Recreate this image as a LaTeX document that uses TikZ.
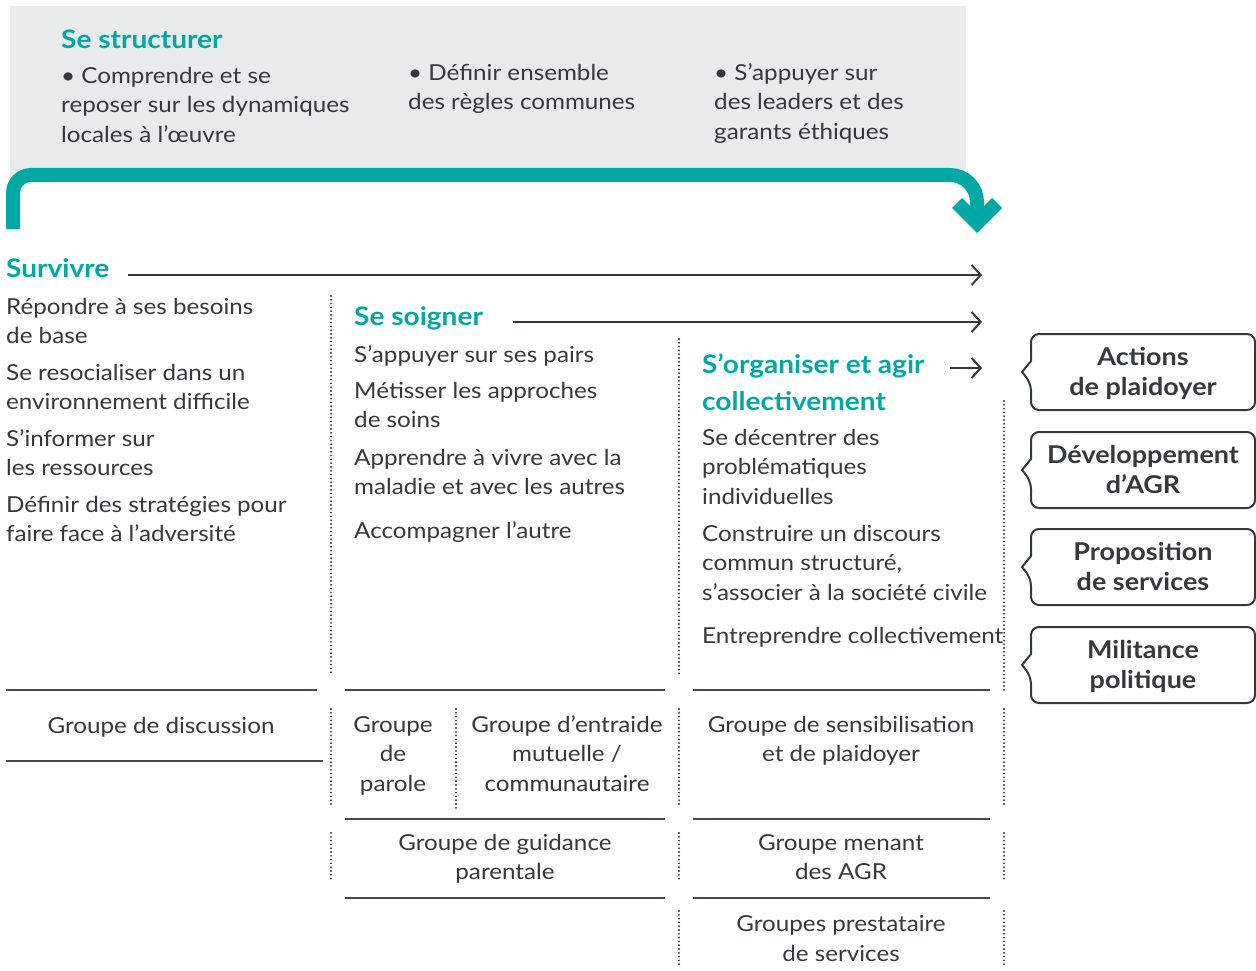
\documentclass[tikz,border=0pt]{standalone}
\usepackage{fontspec}
\setmainfont[FakeStretch=1.10]{Lato}
\usetikzlibrary{arrows.meta}
\definecolor{tealc}{RGB}{0,168,164}
\definecolor{txtc}{RGB}{51,57,62}
\definecolor{bgc}{RGB}{233,234,236}
\definecolor{linec}{RGB}{70,75,80}
\tikzset{
  body/.style={font=\fontsize{22}{29.5}\selectfont, text=txtc, inner sep=0pt, anchor=north west, align=left},
  bodyc/.style={body, anchor=north, align=center},
  ttl/.style={font=\fontsize{25.5}{37}\selectfont\bfseries, text=tealc, inner sep=0pt, anchor=north west, align=left},
  boxttl/.style={font=\fontsize{24.5}{30}\selectfont\bfseries, text=txtc, inner sep=0pt, anchor=north, align=center},
  sep/.style={draw=linec, line width=1.8pt},
  dots/.style={draw=txtc, line width=2.1pt, line cap=round, dash pattern=on 0pt off 3.8pt},
  flow/.style={draw=txtc, line width=2pt, -{Straight Barb[length=9pt,width=20pt,line width=2pt]}},
  bubble/.style={draw=txtc, line width=2pt, rounded corners=8pt},
  bigarrow/.style={draw=tealc, line width=14pt}
}
\begin{document}
\begin{tikzpicture}[x=1pt,y=-1pt]
\useasboundingbox (0,0) rectangle (1256,971);
% grey band
\fill[bgc] (10,6) rectangle (966,176);
% big teal arrow
\draw[bigarrow] (13,229) -- (13,193) arc[start angle=180,end angle=270,radius=18] -- (950,175) arc[start angle=270,end angle=360,radius=27] -- (977,216);
\fill[tealc] (977,233) -- (952,208) -- (962,198) -- (977,213) -- (992,198) -- (1002,208) -- cycle;

% Se structurer
\node[ttl] (st) at (61,22.1) {\strut Se structurer};
\node[body] (s1) at (61,62.35) {\strut • Comprendre et se\\reposer sur les dynamiques\\locales à l’œuvre};
\node[body] (s2) at (408,59.35) {\strut • Définir ensemble\\des règles communes};
\node[body] (s3) at (714,59.35) {\strut • S’appuyer sur\\des leaders et des\\garants éthiques};

% column 1
\node[ttl] (surv) at (6,251) {\strut Survivre};
\coordinate (sa) at (128,275);
\coordinate (sb) at (982,275);
\draw[flow] (sa) -- (sb);
\node[body] (a1) at (6,293.35) {\strut Répondre à ses besoins\\de base};
\node[body] (a2) at (6,359.35) {\strut Se resocialiser dans un\\environnement difficile};
\node[body] (a3) at (6,425.35) {\strut S’informer sur\\les ressources};
\node[body] (a4) at (6,491.35) {\strut Définir des stratégies pour\\faire face à l’adversité};

% column 2
\node[ttl] (soig) at (354,299) {\strut Se soigner};
\coordinate (ga) at (513,322);
\coordinate (gb) at (982,322);
\draw[flow] (ga) -- (gb);
\node[body] (b1) at (354,341.35) {\strut S’appuyer sur ses pairs};
\node[body] (b2) at (354,377.35) {\strut Métisser les approches\\de soins};
\node[body] (b3) at (354,444.35) {\strut Apprendre à vivre avec la\\maladie et avec les autres};
\node[body] (b4) at (354,517.35) {\strut Accompagner l’autre};

% column 3
\node[ttl] (org) at (702,347) {\strut S’organiser et agir\\collectivement};
\coordinate (oa) at (950,368);
\coordinate (ob) at (982,368);
\draw[flow] (oa) -- (ob);
\node[body] (c1) at (702,424.35) {\strut Se décentrer des\\problématiques\\individuelles};
\node[body] (c2) at (702,520.35) {\strut Construire un discours\\commun structuré,\\s’associer à la société civile};
\node[body] (c3) at (702,622.35) {\strut Entreprendre collectivement};

% dotted column separators
\draw[dots] (331,296) -- (331,675);
\draw[dots] (679,339) -- (679,675);
\draw[dots] (1004,401) -- (1004,690);

% bubbles
\foreach \t/\nm in {334/p1,432/p2,529/p3,627/p4}{
  \pgfmathsetmacro{\b}{\t+76}
  \pgfmathsetmacro{\m}{\t+38}
  \draw[bubble] (1031,\m-11) -- (1031,\t) -- (1255,\t) -- (1255,\b) -- (1031,\b) -- (1031,\m+11) [sharp corners] -- (1022,\m) -- cycle;
}
\node[boxttl] (p1t) at (1143,344) {\strut Actions\\de plaidoyer};
\node[boxttl] (p2t) at (1143,442) {\strut Développement\\d’AGR};
\node[boxttl] (p3t) at (1143,539) {\strut Proposition\\de services};
\node[boxttl] (p4t) at (1143,637) {\strut Militance\\politique};

% bottom separators
\draw[sep] (6,690) -- (317,690);
\draw[sep] (345,690) -- (665,690);
\draw[sep] (693,690) -- (990,690);
\draw[sep] (6,761) -- (323,761);
\draw[sep] (345,819) -- (665,819);
\draw[sep] (693,819) -- (990,819);
\draw[sep] (345,898) -- (665,898);
\draw[sep] (693,898) -- (990,898);

% bottom dotted
\draw[dots] (331,709) -- (331,805);
\draw[dots] (331,833) -- (331,880);
\draw[dots] (456,709) -- (456,809);
\draw[dots] (679,709) -- (679,805);
\draw[dots] (679,833) -- (679,880);
\draw[dots] (679,911) -- (679,965);
\draw[dots] (1004,709) -- (1004,805);
\draw[dots] (1004,833) -- (1004,880);
\draw[dots] (1004,911) -- (1004,965);

% groups
\node[bodyc] (g1) at (161,712.35) {\strut Groupe de discussion};
\node[bodyc] (g2) at (393,711.35) {\strut Groupe\\de\\parole};
\node[bodyc] (g3) at (567,711.35) {\strut Groupe d’entraide\\mutuelle /\\communautaire};
\node[bodyc] (g4) at (505,829.35) {\strut Groupe de guidance\\parentale};
\node[bodyc] (g5) at (841,711.35) {\strut Groupe de sensibilisation\\et de plaidoyer};
\node[bodyc] (g6) at (841,829.35) {\strut Groupe menant\\des AGR};
\node[bodyc] (g7) at (841,910.85) {\strut Groupes prestataire\\de services};
\end{tikzpicture}
\end{document}
